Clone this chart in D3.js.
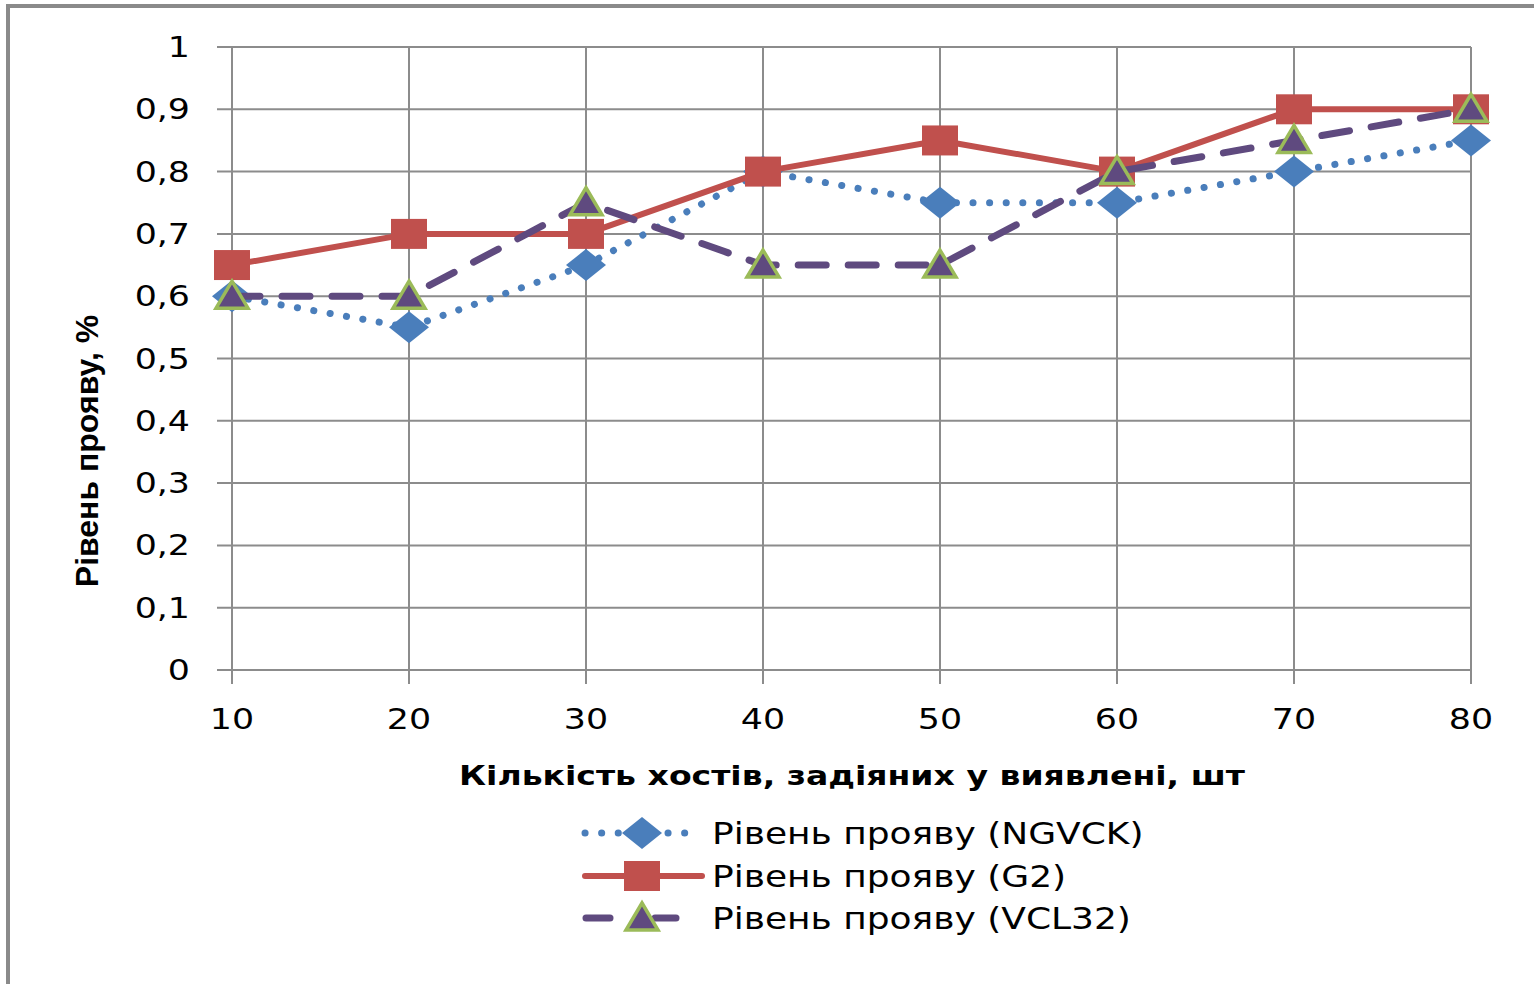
<!DOCTYPE html>
<html>
<head>
<meta charset="utf-8">
<script src="https://cdn.jsdelivr.net/npm/d3@7"></script>
<style>
  html, body { margin: 0; padding: 0; background: #fff; }
  svg { display: block; }
</style>
</head>
<body>
<script>
// Chart data
const categories = [10, 20, 30, 40, 50, 60, 70, 80];
const ngvck = [0.6, 0.55, 0.65, 0.8, 0.75, 0.75, 0.8, 0.85];
const g2    = [0.65, 0.7, 0.7, 0.8, 0.85, 0.8, 0.9, 0.9];
const vcl32 = [0.6, 0.6, 0.75, 0.65, 0.65, 0.8, 0.85, 0.9];
const yTicks = [0, 0.1, 0.2, 0.3, 0.4, 0.5, 0.6, 0.7, 0.8, 0.9, 1];
const seriesNames = ["Рівень прояву (NGVCK)", "Рівень прояву (G2)", "Рівень прояву (VCL32)"];
const xTitle = "Кількість хостів, задіяних у виявлені, шт";
const yTitle = "Рівень прояву, %";

const W = 1534, H = 984;
const svg = d3.select("body").append("svg").attr("width", W).attr("height", H);

const x = d3.scalePoint().domain(categories).range([232, 1471]);
const y = d3.scaleLinear().domain([0, 1]).range([670, 47]);

const fmt = v => String(+v.toFixed(1)).replace(".", ",");
const SX = 1.2; // horizontal stretch applied to text

// outer frame
svg.append("rect").attr("x", 8).attr("y", 6).attr("width", W + 20).attr("height", H + 20)
  .attr("fill", "none").attr("stroke", "#8a8a8a").attr("stroke-width", 4);

const grid = svg.append("g").attr("stroke", "#8c8c8c").attr("stroke-width", 2);
// horizontal gridlines with outward ticks
grid.selectAll("line.h").data(yTicks).join("line").attr("class", "h")
  .attr("x1", 217).attr("x2", 1471)
  .attr("y1", d => y(d)).attr("y2", d => y(d));
// vertical gridlines with outward ticks
grid.selectAll("line.v").data(categories).join("line").attr("class", "v")
  .attr("x1", d => x(d)).attr("x2", d => x(d))
  .attr("y1", y(1)).attr("y2", 684);

function stretchedText(g, str, tx, ty, anchor, size, weight, family, sx) {
  return g.append("text")
    .attr("transform", `translate(${tx},${ty}) scale(${sx},1)`)
    .attr("text-anchor", anchor)
    .attr("font-family", family)
    .attr("font-size", size)
    .attr("font-weight", weight)
    .attr("fill", "#000")
    .text(str);
}

const labels = svg.append("g");
yTicks.forEach(t => stretchedText(labels, fmt(t), 190, y(t) + 10, "end", 29, "normal", "DejaVu Sans", SX));
categories.forEach(c => stretchedText(labels, c, x(c), 729, "middle", 29, "normal", "DejaVu Sans", SX));

stretchedText(labels, xTitle, 852, 785, "middle", 27, "bold", "DejaVu Sans", 1.225);
labels.append("text")
  .attr("transform", "translate(98,451) rotate(-90)")
  .attr("text-anchor", "middle")
  .attr("font-family", "Liberation Sans, Arial, sans-serif")
  .attr("font-size", 32).attr("font-weight", "bold")
  .text(yTitle);

// Series styles
const series = [
  { name: seriesNames[0], values: ngvck, color: "#4a7ebb", width: 7, dash: "0.1 16.5", cap: "round", marker: "diamond" },
  { name: seriesNames[1], values: g2, color: "#c0504d", width: 6, dash: null, cap: "round", marker: "square" },
  { name: seriesNames[2], values: vcl32, color: "#5f4a7f", width: 7, dash: "28 22", cap: "round", marker: "triangle" }
];

const line = d3.line().x((d, i) => x(categories[i])).y(d => y(d));

function drawMarker(g, type, cx, cy) {
  if (type === "diamond") {
    g.append("path").attr("d", `M${cx},${cy - 16}L${cx + 20},${cy}L${cx},${cy + 16}L${cx - 20},${cy}Z`)
      .attr("fill", "#4a7ebb");
  } else if (type === "square") {
    g.append("rect").attr("x", cx - 18).attr("y", cy - 15).attr("width", 36).attr("height", 30)
      .attr("fill", "#c0504d");
  } else {
    g.append("path").attr("d", `M${cx},${cy - 15}L${cx + 16},${cy + 12}L${cx - 16},${cy + 12}Z`)
      .attr("fill", "#5f4a7f").attr("stroke", "#9bbb59").attr("stroke-width", 3.5)
      .attr("stroke-linejoin", "miter");
  }
}

series.forEach(s => {
  const g = svg.append("g");
  g.append("path").datum(s.values).attr("d", line)
    .attr("fill", "none").attr("stroke", s.color).attr("stroke-width", s.width)
    .attr("stroke-linecap", s.cap).attr("stroke-linejoin", "round")
    .attr("stroke-dasharray", s.dash);
  s.values.forEach((v, i) => drawMarker(g, s.marker, x(categories[i]), y(v)));
});

// Legend
const legend = svg.append("g");
const legY = [833, 876, 918];
series.forEach((s, i) => {
  const ly = legY[i];
  const g = legend.append("g");
  if (s.marker === "triangle") {
    g.append("line").attr("x1", 586).attr("x2", 610).attr("y1", ly).attr("y2", ly)
      .attr("stroke", s.color).attr("stroke-width", s.width).attr("stroke-linecap", "round");
    g.append("line").attr("x1", 655).attr("x2", 676).attr("y1", ly).attr("y2", ly)
      .attr("stroke", s.color).attr("stroke-width", s.width).attr("stroke-linecap", "round");
  } else {
    g.append("line").attr("x1", 585).attr("x2", s.marker === "square" ? 702 : 695).attr("y1", ly).attr("y2", ly)
      .attr("stroke", s.color).attr("stroke-width", s.width)
      .attr("stroke-linecap", s.cap).attr("stroke-dasharray", s.dash);
  }
  drawMarker(g, s.marker, 642, ly);
  stretchedText(g, s.name, 712, ly + 11, "start", 30, "normal", "DejaVu Sans", 1.2);
});
</script>
</body>
</html>
